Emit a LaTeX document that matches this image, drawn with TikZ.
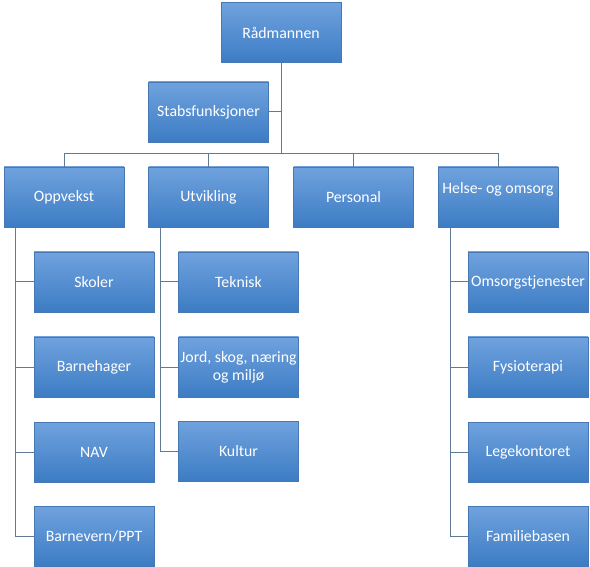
\documentclass[tikz,border=0pt]{standalone}
\usepackage{fontspec}
\setmainfont{Carlito}
\definecolor{boxtop}{RGB}{112,162,222}
\definecolor{boxbot}{RGB}{60,124,196}
\definecolor{boxedge}{RGB}{70,120,180}
\definecolor{linecol}{RGB}{96,122,150}
\tikzset{
  orgbox/.style={rectangle, minimum width=120pt, minimum height=60pt, inner sep=0pt,
    top color=boxtop, bottom color=boxbot, draw=boxedge, line width=0.3pt,
    text=white, font=\fontsize{15.8}{18}\selectfont, align=center},
  conn/.style={draw=linecol, line width=1pt}
}
\begin{document}
\begin{tikzpicture}[x=1pt,y=-1pt]
\useasboundingbox (0,0) rectangle (590,567);
\node[orgbox] (rad) at (281,32.5) {Rådmannen};
\node[orgbox] (stab) at (208.5,112) {Stabsfunksjoner};
\node[orgbox] (opp) at (64,197) {Oppvekst};
\node[orgbox] (utv) at (208.5,197) {Utvikling};
\node[orgbox] (pers) at (353.5,197) {Personal};
\node[orgbox] (helse) at (498,197) {Helse- og omsorg\\~};
\node[orgbox] (skoler) at (94,282) {Skoler};
\node[orgbox] (barneh) at (94,367) {Barnehager};
\node[orgbox] (nav) at (94,452) {NAV};
\node[orgbox] (barnev) at (94,536) {Barnevern/PPT};
\node[orgbox] (tekn) at (238.5,282) {Teknisk};
\node[orgbox] (jord) at (238.5,367) {Jord, skog, næring\\og miljø};
\node[orgbox] (kult) at (238.5,451) {Kultur};
\node[orgbox] (omsorg) at (528,282) {Omsorgstjenester};
\node[orgbox] (fysio) at (528,367) {Fysioterapi};
\node[orgbox] (lege) at (528,452) {Legekontoret};
\node[orgbox] (fam) at (528,536) {Familiebasen};
\coordinate (bar) at (281,154);
\begin{scope}[conn]
\draw (rad.south) -- (bar);
\draw (stab.east) -- (stab.east -| bar);
\draw (opp.north) |- (bar);
\draw (helse.north) |- (bar);
\draw (utv.north) -- (utv.north |- bar);
\draw (pers.north) -- (pers.north |- bar);
\foreach \c in {skoler,barneh,nav,barnev}
  \draw ([xshift=12pt]opp.south west) |- (\c.west);
\foreach \c in {tekn,jord,kult}
  \draw ([xshift=12pt]utv.south west) |- (\c.west);
\foreach \c in {omsorg,fysio,lege,fam}
  \draw ([xshift=13pt]helse.south west) |- (\c.west);
\end{scope}
\end{tikzpicture}
\end{document}
